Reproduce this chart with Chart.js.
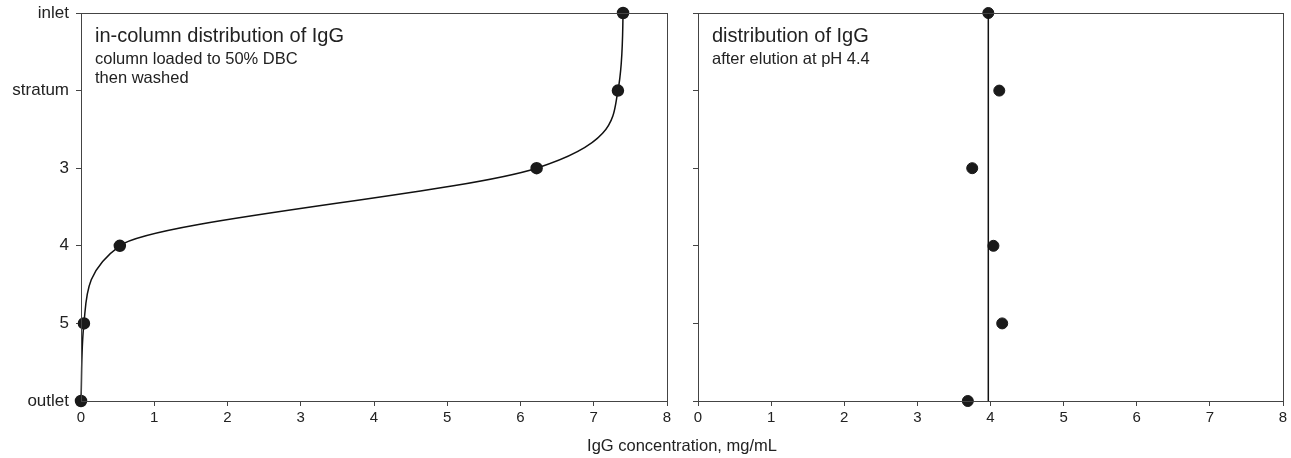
<!DOCTYPE html>
<html>
<head>
<meta charset="utf-8">
<script src="https://cdn.jsdelivr.net/npm/chart.js@4"></script>
<style>
  body { margin: 0; background: #fff; font-family: "Liberation Sans", Arial, sans-serif; }
  #wrap { position: relative; width: 1291px; height: 458px; }
  #left { position: absolute; left: 0; top: 0; }
  #right { position: absolute; left: 680px; top: 0; }
  #xtitle { position: absolute; left: 0; width: 1364px; top: 436px; text-align: center; font-size: 16.5px; color: #222; }
</style>
</head>
<body>
<div id="wrap">
  <canvas id="left" width="680" height="458"></canvas>
  <canvas id="right" width="611" height="458"></canvas>
  <div id="xtitle">IgG concentration, mg/mL</div>
</div>
<script>
// strata from top of the column to the bottom
const strata = ["inlet", "stratum", "3", "4", "5", "outlet"];
const xTicks = [0, 1, 2, 3, 4, 5, 6, 7, 8];

// IgG concentration per stratum, mg/mL
const loadedValues = [7.40, 7.33, 6.22, 0.53, 0.04, 0.0];
const elutedValues = [3.97, 4.12, 3.75, 4.04, 4.16, 3.69];
const elutedMean = 3.97;

const axisColor = "#444";
const fontFamily = "'Liberation Sans', Arial, sans-serif";

const toPoints = vals => vals.map((v, i) => ({ x: v, y: i + 1 }));

// frame + in-plot notes
const boxPlugin = {
  id: "box",
  afterDraw(chart, args, opts) {
    const { ctx, chartArea: a } = chart;
    ctx.save();
    ctx.strokeStyle = axisColor;
    ctx.lineWidth = 1;
    ctx.strokeRect(a.left + 0.5, a.top + 0.5, a.right - a.left, a.bottom - a.top);
    ctx.fillStyle = "#222";
    ctx.textBaseline = "alphabetic";
    (opts.notes || []).forEach(n => {
      ctx.font = n.size + "px " + fontFamily;
      ctx.fillText(n.text, a.left + 14, a.top + n.dy);
    });
    ctx.restore();
  }
};

function makeOptions(yWidth, showYLabels, notes, rightPad) {
  return {
    responsive: false,
    animation: false,
    indexAxis: "y",
    layout: { padding: { top: 13, right: rightPad, left: 0, bottom: 0 } },
    plugins: { legend: { display: false }, tooltip: { enabled: false }, box: { notes } },
    scales: {
      x: {
        type: "linear", min: 0, max: 8,
        afterBuildTicks: s => { s.ticks = xTicks.map(v => ({ value: v })); },
        afterFit: s => { s.height = 57; s.paddingLeft = 0; s.paddingRight = 0; },
        grid: { drawOnChartArea: false, drawTicks: true, tickLength: 5, color: axisColor },
        border: { color: axisColor },
        ticks: { color: "#222", font: { family: fontFamily, size: 15 }, padding: 3, maxRotation: 0 }
      },
      y: {
        type: "linear", min: 1, max: 6, reverse: true,
        afterBuildTicks: s => { s.ticks = strata.map((_, i) => ({ value: i + 1 })); },
        afterFit: s => { s.width = yWidth; s.paddingTop = 0; s.paddingBottom = 0; },
        grid: { drawOnChartArea: false, drawTicks: true, tickLength: 5, color: axisColor },
        border: { color: axisColor },
        ticks: {
          color: "#222", font: { family: fontFamily, size: 17 }, padding: 7,
          callback: v => showYLabels ? strata[v - 1] : ""
        }
      }
    }
  };
}

new Chart(document.getElementById("left"), {
  type: "line",
  data: {
    datasets: [{
      data: toPoints(loadedValues),
      borderColor: "#111",
      borderWidth: 1.5,
      cubicInterpolationMode: "monotone",
      pointRadius: 5.5,
      pointBackgroundColor: "#1a1a1a",
      pointBorderColor: "#1a1a1a",
      clip: false
    }]
  },
  options: makeOptions(81, true, [
    { text: "in-column distribution of IgG", size: 20, dy: 29 },
    { text: "column loaded to 50% DBC", size: 16.5, dy: 51 },
    { text: "then washed", size: 16.5, dy: 70 }
  ], 13),
  plugins: [boxPlugin]
});

new Chart(document.getElementById("right"), {
  type: "line",
  data: {
    datasets: [
      {
        data: [{ x: elutedMean, y: 1 }, { x: elutedMean, y: 6 }],
        borderColor: "#111",
        borderWidth: 1.5,
        pointRadius: 0
      },
      {
        data: toPoints(elutedValues),
        showLine: false,
        pointRadius: 5.5,
        pointBackgroundColor: "#1a1a1a",
        pointBorderColor: "#1a1a1a",
        clip: false
      }
    ]
  },
  options: makeOptions(18, false, [
    { text: "distribution of IgG", size: 20, dy: 29 },
    { text: "after elution at pH 4.4", size: 16.5, dy: 51 }
  ], 8),
  plugins: [boxPlugin]
});
</script>
</body>
</html>
